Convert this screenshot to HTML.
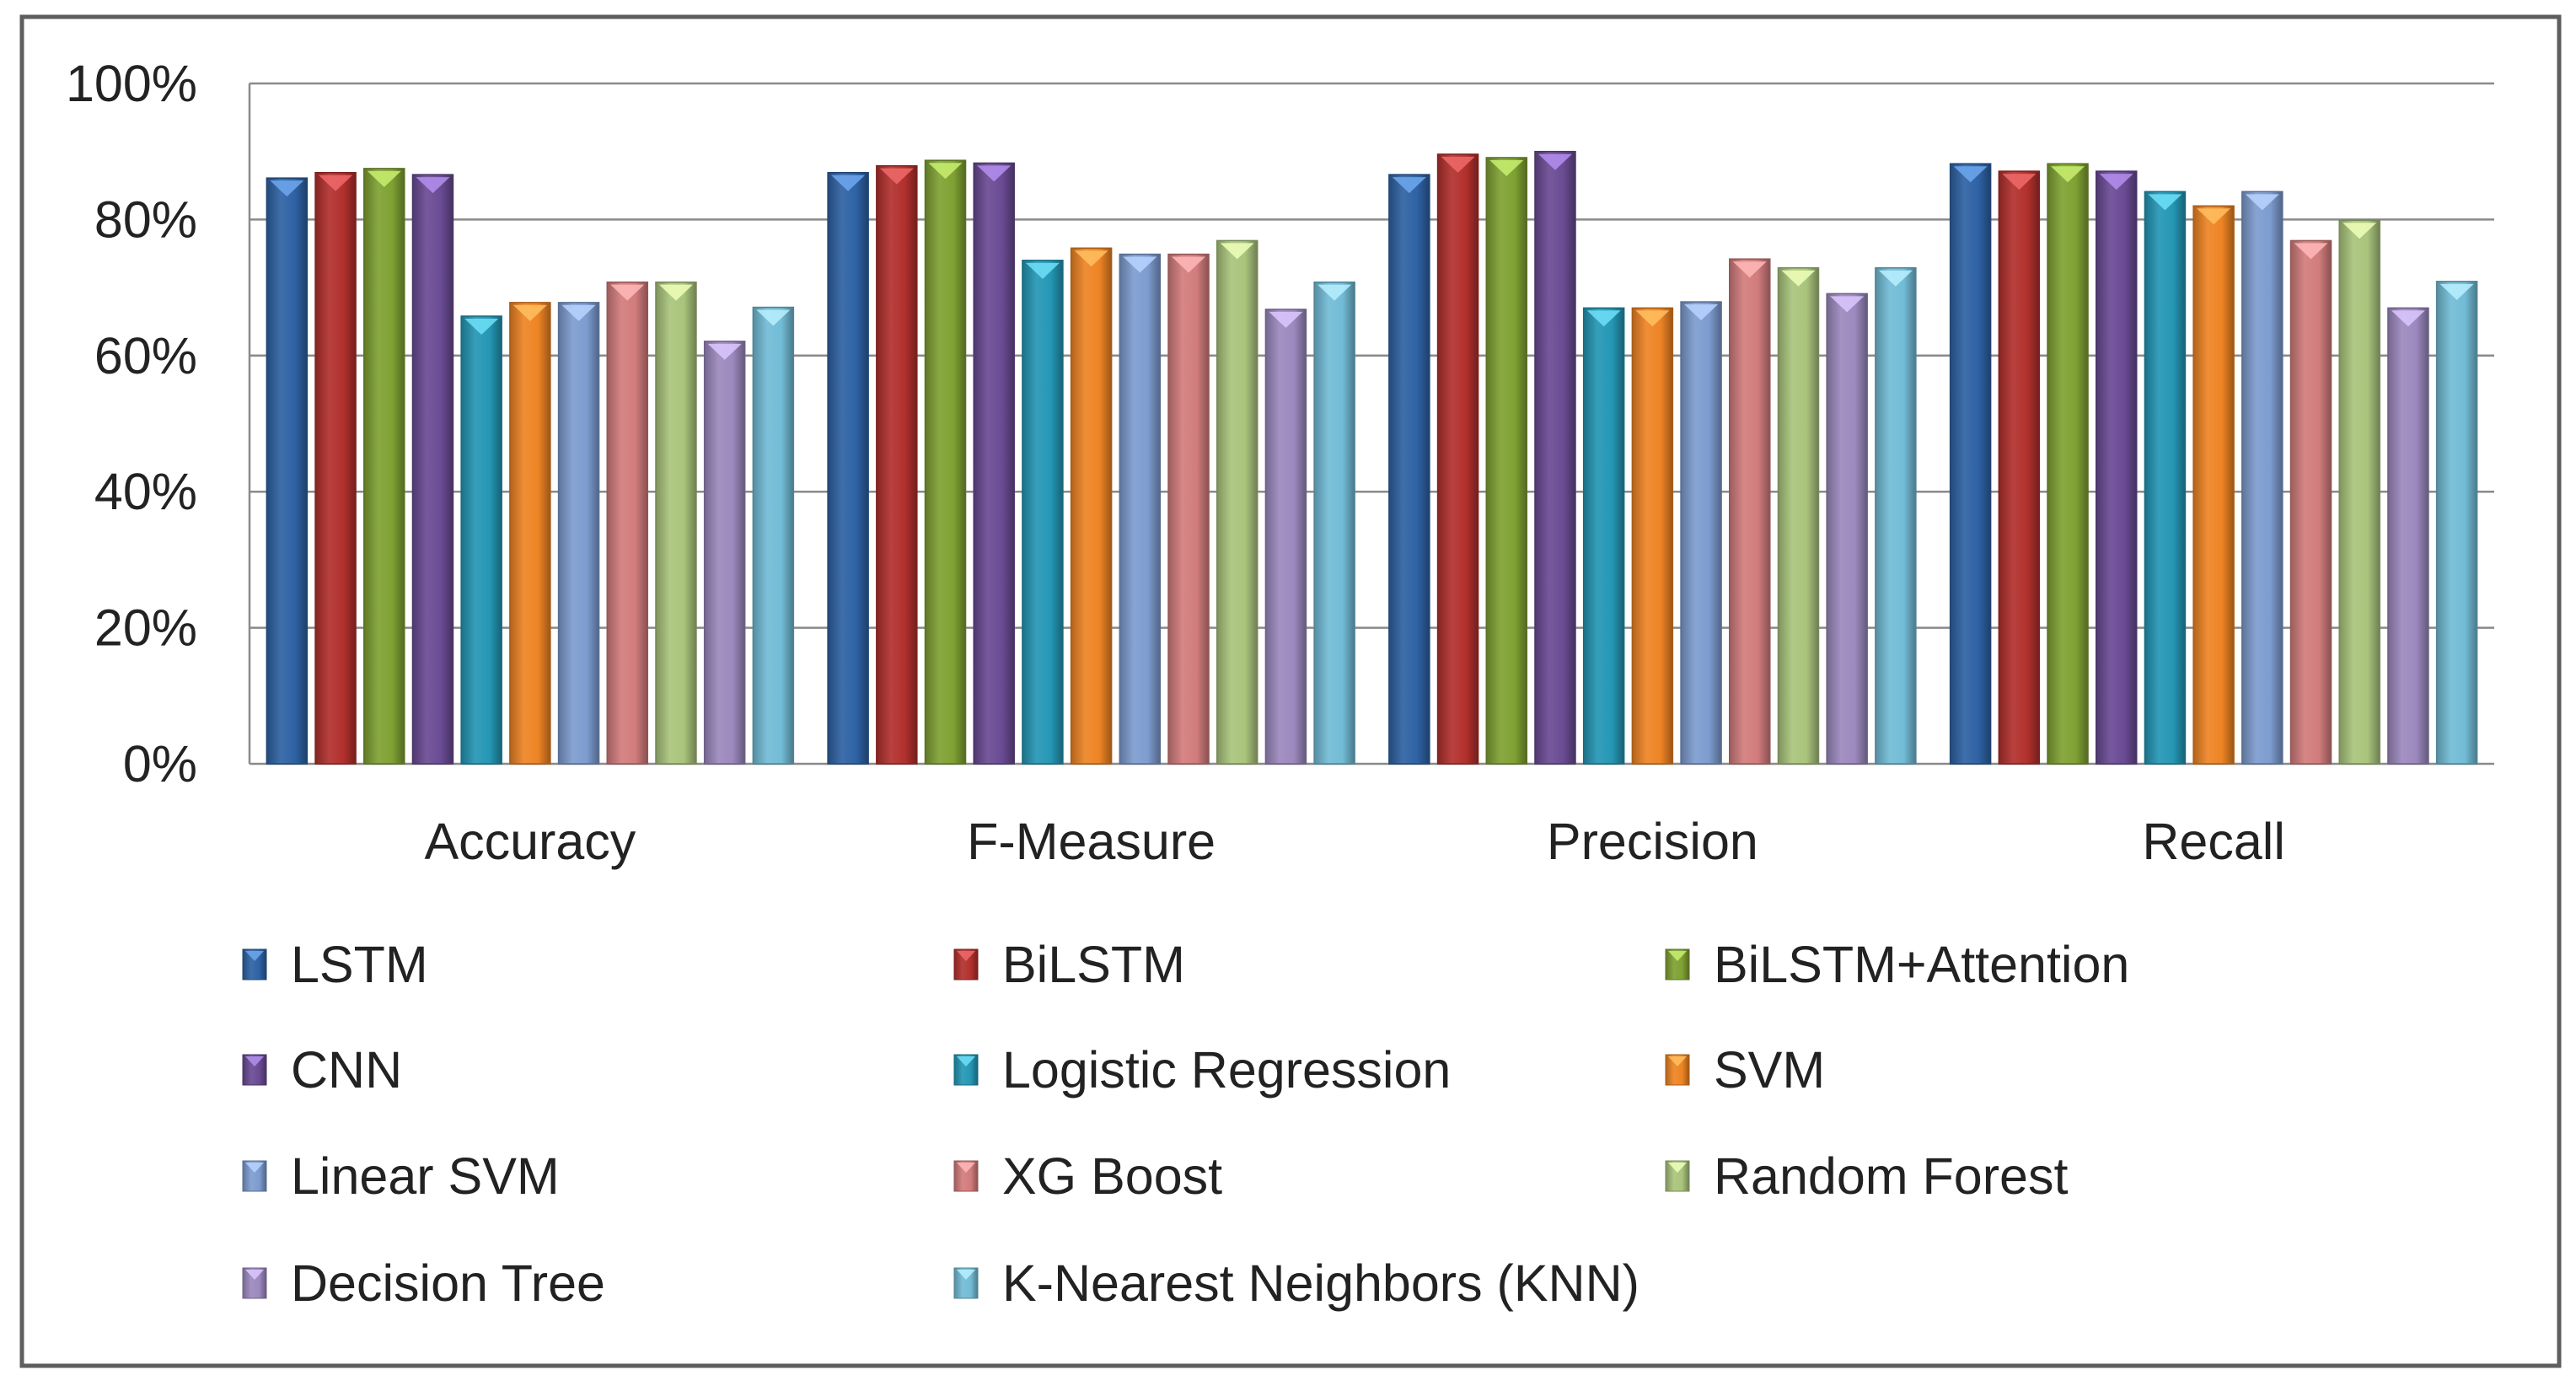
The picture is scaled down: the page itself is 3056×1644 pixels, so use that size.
<!DOCTYPE html>
<html><head><meta charset="utf-8">
<style>
html,body{margin:0;padding:0;background:#fff;}
svg{display:block;font-family:"Liberation Sans",sans-serif;}
</style></head>
<body>
<svg id="chart" width="3056" height="1644" viewBox="0 0 3056 1644" xmlns="http://www.w3.org/2000/svg">
<rect x="26" y="20" width="3010" height="1600" fill="#fff" stroke="#5e5e5e" stroke-width="5"/>
<defs id="defs"></defs>
<g id="grid"></g>
<g id="bars"></g>
<g id="labels"></g>
<g id="legend"></g>
</svg>
<script>
const categories = ["Accuracy","F-Measure","Precision","Recall"];
const seriesNames = ["LSTM","BiLSTM","BiLSTM+Attention","CNN","Logistic Regression","SVM","Linear SVM","XG Boost","Random Forest","Decision Tree","K-Nearest Neighbors (KNN)"];
const lstm = [86.1, 86.9, 86.6, 88.2];
const bilstm = [86.9, 87.9, 89.6, 87.1];
const attention = [87.5, 88.7, 89.1, 88.2];
const cnn = [86.6, 88.3, 90.0, 87.1];
const logreg = [65.8, 74.0, 67.0, 84.1];
const svm = [67.8, 75.8, 67.0, 82.0];
const linsvm = [67.8, 74.9, 67.9, 84.1];
const xgboost = [70.8, 74.9, 74.2, 76.9];
const randforest = [70.8, 76.9, 72.9, 79.9];
const dtree = [62.1, 66.8, 69.1, 67.0];
const knn = [67.1, 70.8, 72.9, 70.9];
const yTicks = [0,20,40,60,80,100];
const tickLabels = ["0%","20%","40%","60%","80%","100%"];

const allSeries = [lstm,bilstm,attention,cnn,logreg,svm,linsvm,xgboost,randforest,dtree,knn];
const colors = ["#2e62a4","#b2302d","#7fa133","#6a4b94","#2497b5","#ee8424","#7d9ccf","#d27c7c","#a9c47c","#9c89be","#72bcd6"];
const tipColors = ["#6fa8f0","#f06a6a","#c8f070","#b58ff0","#6fe0f8","#ffc060","#b8d4ff","#ffb8b8","#eeffb8","#dcc8ff","#b8f0ff"];

const NS="http://www.w3.org/2000/svg";
const PL=296, PR=2959, PT=99, PB=906;
const y = v => PB - (v/100)*(PB-PT);
const groupW = (PR-PL)/categories.length;
const slot = 57.7, barW = 48, margin = (groupW - slot*11)/2;
const x = (ci, si) => PL + ci*groupW + margin + si*slot + (slot-barW)/2;

function mk(tag, attrs, parent){const e=document.createElementNS(NS,tag);for(const k in attrs)e.setAttribute(k,attrs[k]);parent.appendChild(e);return e;}
function shade(hex,f){const n=parseInt(hex.slice(1),16);let r=n>>16,g=(n>>8)&255,b=n&255;
 const c=v=>Math.max(0,Math.min(255,Math.round(f<0?v*(1+f):v+(255-v)*f)));return "rgb("+c(r)+","+c(g)+","+c(b)+")";}

const defs=document.getElementById('defs');
colors.forEach((c,i)=>{
  const lg=mk('linearGradient',{id:'g'+i,x1:0,y1:0,x2:1,y2:0},defs);
  mk('stop',{offset:'0',"stop-color":shade(c,-0.25)},lg);
  mk('stop',{offset:'0.35',"stop-color":shade(c,0.08)},lg);
  mk('stop',{offset:'0.7',"stop-color":c},lg);
  mk('stop',{offset:'1',"stop-color":shade(c,-0.35)},lg);
});

const grid=document.getElementById('grid');
yTicks.forEach((t,i)=>{
  const gl=mk('line',{x1:PL,x2:PR,y1:y(t),y2:y(t),stroke:'#8a8a8a','stroke-width':2.5},grid);
  
  
  const tl=mk('text',{x:234,y:y(t)+21,'text-anchor':'end','font-size':61,fill:'#222'},grid);
  tl.textContent=tickLabels[i];
  
  
});
const ax=mk('line',{x1:PL,x2:PL,y1:PT,y2:PB,stroke:'#8a8a8a','stroke-width':2.5},grid);



const bars=document.getElementById('bars');
allSeries.forEach((s,si)=>{
  s.forEach((v,ci)=>{
    const bx=x(ci,si), by=y(v);
    const r=mk('rect',{x:bx,y:by,width:barW,height:PB-by,fill:'url(#g'+si+')',stroke:shade(colors[si],-0.3),'stroke-width':1.5},bars);
    
    
    const tri=mk('polygon',{points:(bx+4)+','+(by+3)+' '+(bx+barW-4)+','+(by+3)+' '+(bx+barW/2)+','+(by+22),fill:tipColors[si],opacity:0.85},bars);
    
    
  });
});

const labels=document.getElementById('labels');
categories.forEach((c,ci)=>{
  const t=mk('text',{x:PL+ci*groupW+groupW/2,y:1019,'text-anchor':'middle','font-size':61,fill:'#222'},labels);
  t.textContent=c;
  
  
});

const legend=document.getElementById('legend');
const colX=[288,1132,1976], rowY=[1144,1269,1395,1522];
seriesNames.forEach((n,i)=>{
  const lx=colX[i%3], ly=rowY[Math.floor(i/3)];
  const m=mk('rect',{x:lx,y:ly-18,width:28,height:36,fill:'url(#g'+i+')',stroke:shade(colors[i],-0.3),'stroke-width':1},legend);
  
  
  const tri=mk('polygon',{points:(lx+3)+','+(ly-16)+' '+(lx+25)+','+(ly-16)+' '+(lx+14)+','+(ly-4),fill:tipColors[i],opacity:0.85},legend);
  
  
  const t=mk('text',{x:lx+57,y:ly+21,'font-size':61,fill:'#222'},legend);
  t.textContent=n;
  
  
});
</script>
</body></html>
